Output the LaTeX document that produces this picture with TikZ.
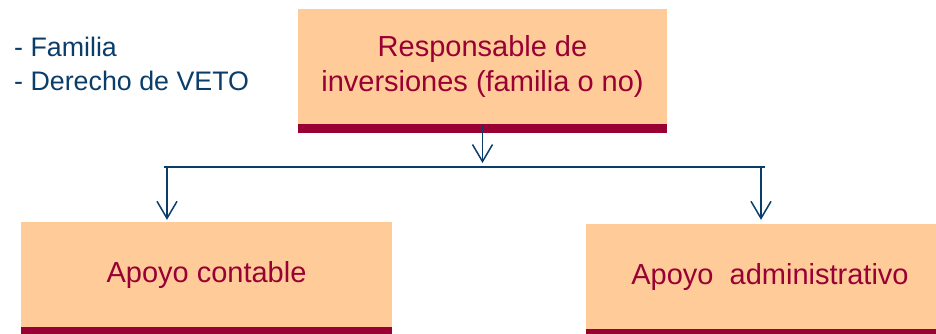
\documentclass[tikz,border=0pt]{standalone}
\usepackage{fontspec}
\setmainfont{Liberation Sans}
\usetikzlibrary{arrows.meta}
\definecolor{boxfill}{HTML}{FFCC99}
\definecolor{barred}{HTML}{990033}
\definecolor{lineblue}{HTML}{0B3D6B}
\tikzset{
  orgbox/.style={draw=none, fill=boxfill, text=barred, inner sep=0pt, align=center,
    font=\fontsize{29}{35}\selectfont},
  barline/.style={fill=barred, draw=none},
  conn/.style={draw=lineblue, line width=1.5pt},
  arr/.style={conn, -{Straight Barb[length=17pt,width=20pt,line width=1.5pt]}},
  note/.style={text=lineblue, align=left, inner sep=0pt, font=\fontsize{26.8}{34}\selectfont}
}
\begin{document}
\begin{tikzpicture}[x=1pt,y=-1pt]
\useasboundingbox (0,0) rectangle (936,333);
\clip (0,0) rectangle (936,333);
% top box
\node[orgbox, minimum width=369pt, minimum height=115pt] (top) at (482.5,66.5)
  {Responsable de\\inversiones (familia o no)};
\path[barline] (top.south west) rectangle ([yshift=-9pt]top.south east);
% left box
\node[orgbox, minimum width=371pt, minimum height=105pt] (left) at (206.5,274.5) {Apoyo contable};
\path[barline] (left.south west) rectangle ([yshift=-9pt]left.south east);
% right box
\node[orgbox, minimum width=368pt, minimum height=105pt] (right) at (770,276.5) {Apoyo\ \ administrativo};
\path[barline] (right.south west) rectangle ([yshift=-9pt]right.south east);
% note
\node[note, anchor=north west] (note) at (14,37) {- Familia\\- Derecho de VETO};
% connectors
\coordinate (hl) at (164,167);
\coordinate (hr) at (765,167);
\coordinate (bl) at (167,167);
\coordinate (br) at (761,167);
\draw[conn] (hl) -- (hr);
\draw[arr] ([yshift=-2pt]top.south) -- ([yshift=4pt]top.south |- hl);
\draw[arr] (bl) -- ([yshift=2pt]left.north -| bl);
\draw[arr] (br) -- ([yshift=4pt]right.north -| br);
\end{tikzpicture}
\end{document}
